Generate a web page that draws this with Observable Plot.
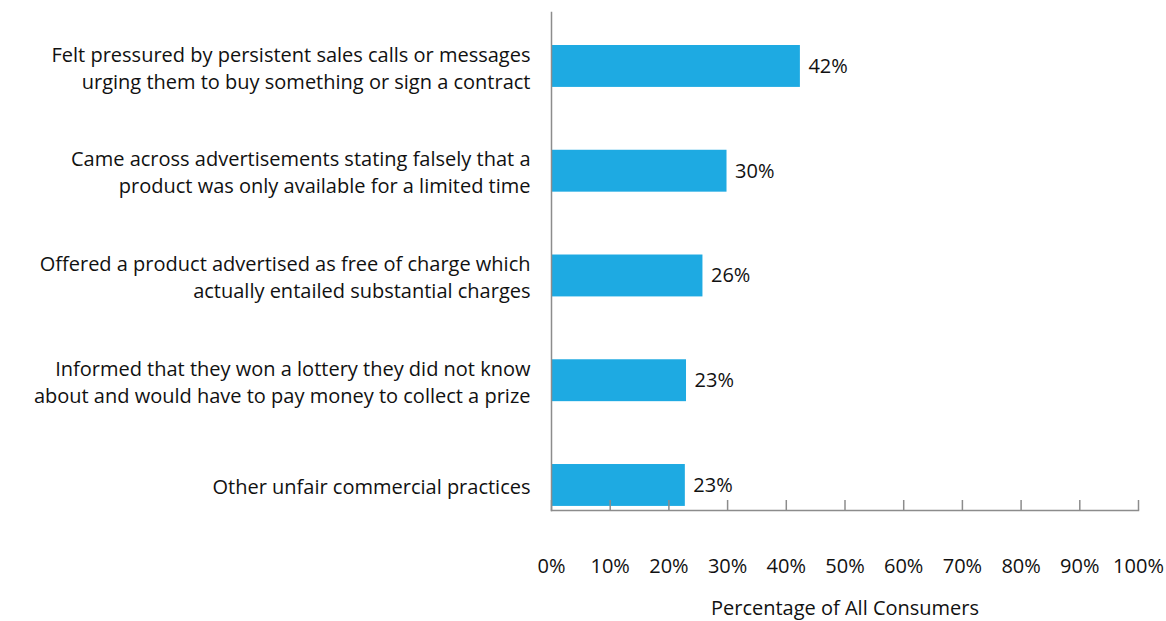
<!DOCTYPE html>
<html>
<head>
<meta charset="utf-8">
<script src="https://cdn.jsdelivr.net/npm/d3@7"></script>
<script src="https://cdn.jsdelivr.net/npm/@observablehq/plot@0.6"></script>
<style>
  html, body { margin: 0; padding: 0; background: #fff; }
  svg { display: block; }
</style>
</head>
<body>
<div id="chart"></div>
<script>
const categories = [
  "Felt pressured by persistent sales calls or messages\nurging them to buy something or sign a contract",
  "Came across advertisements stating falsely that a\nproduct was only available for a limited time",
  "Offered a product advertised as free of charge which\nactually entailed substantial charges",
  "Informed that they won a lottery they did not know\nabout and would have to pay money to collect a prize",
  "Other unfair commercial practices"
];
const values = [42.4, 29.9, 25.8, 23.0, 22.8];
const valueLabels = ["42%", "30%", "26%", "23%", "23%"];
const xTicks = [0, 10, 20, 30, 40, 50, 60, 70, 80, 90, 100];
const xLabel = "Percentage of All Consumers";

const data = categories.map((c, i) => ({category: c, value: values[i], label: valueLabels[i]}));

const font = "'Open Sans', sans-serif";
const axisColor = "#8c8c8c";
const textColor = "#111";

const chart = Plot.plot({
  width: 1166,
  height: 621,
  marginLeft: 551,
  marginRight: 28,
  marginTop: 12,
  marginBottom: 111,
  style: {fontFamily: font, fontSize: "20px", color: textColor, background: "#fff"},
  x: {domain: [0, 100], axis: null},
  y: {domain: categories, axis: null, round: false, paddingInner: 0.6, paddingOuter: 0.177, align: 0.89},
  marks: [
    Plot.barX(data, {x: "value", y: "category", fill: "#1eaae2"}),
    Plot.frame({anchor: "left", stroke: axisColor, strokeWidth: 1.5}),
    Plot.frame({anchor: "bottom", stroke: axisColor, strokeWidth: 1.5}),
    Plot.tickX(xTicks, {x: d => d, stroke: axisColor, strokeWidth: 1.5, insetTop: 488}),
    Plot.axisX(xTicks, {tickSize: 0, tickPadding: 48, tickFormat: d => d + "%", fontSize: 20, label: null, fill: textColor}),
    Plot.text([xLabel], {x: 50, frameAnchor: "bottom", dy: 104, fontSize: 20, fill: textColor}),
    Plot.text(data, {y: "category", text: "category", frameAnchor: "left", textAnchor: "end", dx: -21, lineHeight: 1.35, fontSize: 20, fill: textColor}),
    Plot.text(data, {x: "value", y: "category", text: "label", textAnchor: "start", dx: 8, fontSize: 20, fill: textColor})
  ]
});
document.getElementById("chart").appendChild(chart);
</script>
</body>
</html>
